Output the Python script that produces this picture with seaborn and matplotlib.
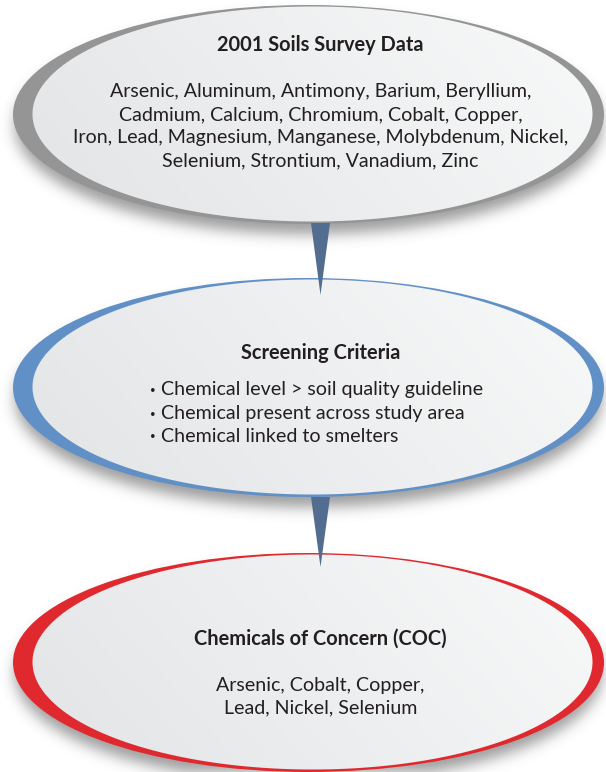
import matplotlib
matplotlib.use("Agg")

import numpy as np
import matplotlib.pyplot as plt
import seaborn as sns
from matplotlib.patches import Ellipse, Polygon

# Box contents
titles = ["2001 Soils Survey Data", "Screening Criteria", "Chemicals of Concern (COC)"]
body_1 = ["Arsenic, Aluminum, Antimony, Barium, Beryllium,",
          "Cadmium, Calcium, Chromium, Cobalt, Copper,",
          "Iron, Lead, Magnesium, Manganese, Molybdenum, Nickel,",
          "Selenium, Strontium, Vanadium, Zinc"]
body_2 = ["Chemical level > soil quality guideline",
          "Chemical present across study area",
          "Chemical linked to smelters"]
body_3 = ["Arsenic, Cobalt, Copper,",
          "Lead, Nickel, Selenium"]
rim_colors = ["#959595", "#6190c6", "#e0292f"]

# Layout (pixels, y down)
W, H = 606, 772
CX = 308.5
TX = 320.5                 # text centre
CY = [114.5, 387.5, 662.5]
OW, OH = 591, 219          # coloured rim ellipse
IW, IH = 560, 215          # inner fill ellipse
IDX = 4.0                  # fill shifted right -> thick rim on the left
title_y = [45, 353, 639]
body_y = [[92, 115, 138, 161], [390, 413, 436], [685, 708]]
conn_x = (311, 330)
conn_y = [(223, 295), (497, 567)]

sns.set_theme(style="white")
plt.rcParams['font.family'] = ['Lato', 'DejaVu Sans']

fig = plt.figure(figsize=(W / 100, H / 100), dpi=100)
ax = fig.add_axes([0, 0, 1, 1])
ax.set_xlim(0, W)
ax.set_ylim(H, 0)
ax.axis('off')

xs = np.arange(W) + 0.5
ys = np.arange(H) + 0.5
X, Y = np.meshgrid(xs, ys)


def gauss_blur(img, sigma):
    r = int(3 * sigma)
    k = np.exp(-0.5 * (np.arange(-r, r + 1) / sigma) ** 2)
    k /= k.sum()
    img = np.apply_along_axis(lambda m: np.convolve(m, k, mode='same'), 0, img)
    img = np.apply_along_axis(lambda m: np.convolve(m, k, mode='same'), 1, img)
    return img


def ellipse_cover(cx, cy, w, h):
    # anti-aliased coverage from an approximate signed distance
    a, b = w / 2, h / 2
    dx, dy = X - cx, Y - cy
    f = (dx / a) ** 2 + (dy / b) ** 2 - 1
    g = np.sqrt((2 * dx / a ** 2) ** 2 + (2 * dy / b ** 2) ** 2) + 1e-9
    return np.clip(0.5 - f / g, 0, 1)


# soft drop shadows
shadow = np.zeros((H, W))
for cy in CY:
    shadow = np.maximum(shadow, ellipse_cover(CX, cy + 11, OW - 4, OH - 2))
shadow = gauss_blur(shadow, 7)
sh_img = np.zeros((H, W, 4))
sh_img[..., :3] = 0.3
sh_img[..., 3] = 0.55 * shadow
ax.imshow(sh_img, extent=(0, W, H, 0), origin='upper', zorder=1, interpolation='bilinear')

for i, cy in enumerate(CY):
    # coloured rim
    ax.add_patch(Ellipse((CX, cy), OW, OH, facecolor=rim_colors[i], edgecolor='none', zorder=2))

    # light gradient fill
    cov = ellipse_cover(CX + IDX, cy - 0.5, IW, IH)
    xn = (X - (CX + IDX - IW / 2)) / IW
    yn = (Y - (cy - IH / 2)) / IH
    t = np.clip(0.75 * xn + 0.25 * (1 - yn), 0, 1)
    c0 = np.array([227, 228, 230]) / 255
    c1 = np.array([248, 249, 249]) / 255
    fill = np.zeros((H, W, 4))
    fill[..., :3] = c0 + (c1 - c0) * t[..., None]
    fill[..., 3] = cov
    ax.imshow(fill, extent=(0, W, H, 0), origin='upper', zorder=3, interpolation='bilinear')

# tapering connectors between boxes
for (y0, y1) in conn_y:
    ax.add_patch(Polygon([(conn_x[0], y0), (conn_x[1], y0), ((conn_x[0] + conn_x[1]) / 2, y1)],
                         closed=True, facecolor='#526d8f', edgecolor='none', zorder=4))

txt = '#231f20'
body_fs = 14.1
title_fs = 14.4

ax.text(TX, title_y[0], titles[0], ha='center', va='center', fontsize=title_fs,
        fontweight='bold', color=txt, zorder=5)
for y, s in zip(body_y[0], body_1):
    ax.text(TX, y, s, ha='center', va='center', fontsize=body_fs, color=txt, zorder=5)

ax.text(TX, title_y[1], titles[1], ha='center', va='center', fontsize=title_fs,
        fontweight='bold', color=txt, zorder=5)
for y, s in zip(body_y[1], body_2):
    ax.text(153, y + 1, '\u2022', ha='center', va='center', fontsize=7, color=txt, zorder=5)
    ax.text(161, y, s, ha='left', va='center', fontsize=body_fs, color=txt, zorder=5)

ax.text(TX, title_y[2], titles[2], ha='center', va='center', fontsize=title_fs,
        fontweight='bold', color=txt, zorder=5)
for y, s in zip(body_y[2], body_3):
    ax.text(TX, y, s, ha='center', va='center', fontsize=body_fs, color=txt, zorder=5)

fig.savefig('out.png', dpi=100, facecolor='white')
